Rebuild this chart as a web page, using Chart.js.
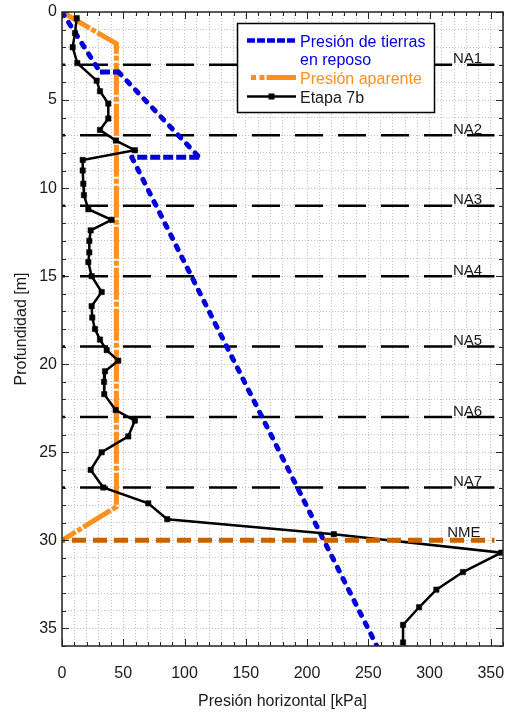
<!DOCTYPE html>
<html lang="es">
<head>
<meta charset="utf-8">
<title>Presión horizontal - Etapa 7b</title>
<script src="https://cdn.jsdelivr.net/npm/chart.js@4.4.1/dist/chart.umd.min.js"></script>
<style>
  html, body { margin: 0; padding: 0; background: #fff; }
  #grafica { display: block; }
</style>
</head>
<body>
<canvas id="grafica" width="509" height="713"></canvas>
<script>
// Etapa 7b: presión medida (kPa) contra profundidad (m)
const etapaPresion = [12, 10.6, 8.7, 12.5, 28.3, 31, 37.8, 37.8, 31, 44, 59.5, 16.9, 16.9, 17.4, 17.9, 21.5,
    40.5, 23.4, 22.3, 22.3, 21.5, 24.2, 32.4, 24.2, 24.7, 26.9, 31, 36.5, 45.9, 35.1, 34.3, 34.5,
    43.8, 59.5, 54.1, 32.4, 23.4, 33.7, 70.4, 85.9, 221.9, 358.6, 327.3, 305.6, 291.5, 278.4, 278.4];
const etapaProf = [0.35, 1.2, 2.0, 2.9, 3.9, 4.5, 5.2, 6.05, 6.7, 7.3, 7.85, 8.4, 9.0, 9.75, 10.4, 11.2,
    11.8, 12.4, 13.0, 13.65, 14.2, 15.0, 15.9, 16.7, 17.35, 18.0, 18.6, 19.2, 19.8, 20.4, 21.0, 21.7,
    22.6, 23.2, 24.1, 25.0, 26.0, 27.0, 27.9, 28.8, 29.65, 30.7, 31.8, 32.8, 33.8, 34.8, 35.8];

// Presión de tierras en reposo
const reposoPresion = [0, 31, 46, 112, 57, 257];
const reposoProf = [0, 3.4, 3.4, 8.25, 8.25, 36];

// Envolvente de presión aparente
const aparentePresion = [0, 44.4, 44.4, 0];
const aparenteProf = [0, 1.8, 28.1, 30];

// Niveles de apuntalamiento y nivel de máxima excavación
const nivelesNA = [3, 7, 11, 15, 19, 23, 27];
const etiquetasNA = ['NA1', 'NA2', 'NA3', 'NA4', 'NA5', 'NA6', 'NA7'];
const nivelNME = 30;
const limitesNivel = [0, 353];

// Ejes
const ejeX = { min: 0, max: 360, paso: 10, pasoEtiqueta: 50 };
const ejeY = { min: 0, max: 36, paso: 1, pasoEtiqueta: 5 };

const FUENTE = '"Liberation Sans", Arial, Helvetica, sans-serif';
const AZUL = '#0000dc';
const NARANJA = '#ff8f1f';
const CAFE = '#c86400';
const TEXTO = '#1a1a1a';

const puntos = (xs, ys) => xs.map((x, i) => ({ x: x, y: ys[i] }));

const lineasNA = nivelesNA.map(p => ({
    label: 'NA ' + p,
    data: puntos(limitesNivel, [p, p]),
    borderColor: '#000',
    borderWidth: 2.5,
    borderDash: [28, 15],
    borderDashOffset: 25,
    pointRadius: 0,
    order: 4
}));

// marcas hacia adentro en los cuatro lados + marco
const marcasInteriores = {
    id: 'marcasInteriores',
    afterDatasetsDraw(chart) {
        const { ctx, chartArea: a, scales: { x, y } } = chart;
        ctx.save();
        ctx.strokeStyle = '#262626';
        ctx.lineWidth = 1;
        ctx.beginPath();
        for (let v = ejeX.min; v <= ejeX.max; v += ejeX.paso) {
            const px = Math.round(x.getPixelForValue(v)) + 0.5;
            const len = v % ejeX.pasoEtiqueta === 0 ? 7 : 4;
            ctx.moveTo(px, a.bottom); ctx.lineTo(px, a.bottom - len);
            ctx.moveTo(px, a.top); ctx.lineTo(px, a.top + len);
        }
        for (let v = ejeY.min; v <= ejeY.max; v += ejeY.paso) {
            const py = Math.round(y.getPixelForValue(v)) + 0.5;
            const len = v % ejeY.pasoEtiqueta === 0 ? 7 : 4;
            ctx.moveTo(a.left, py); ctx.lineTo(a.left + len, py);
            ctx.moveTo(a.right, py); ctx.lineTo(a.right - len, py);
        }
        ctx.stroke();
        ctx.lineWidth = 1.5;
        ctx.strokeRect(a.left, a.top, a.right - a.left, a.bottom - a.top);
        ctx.restore();
    }
};

// etiquetas NA1..NA7 y NME sobre sus líneas
const etiquetasNiveles = {
    id: 'etiquetasNiveles',
    afterDatasetsDraw(chart) {
        const { ctx, scales: { x, y } } = chart;
        ctx.save();
        ctx.font = '15px ' + FUENTE;
        ctx.fillStyle = TEXTO;
        ctx.textAlign = 'center';
        ctx.textBaseline = 'alphabetic';
        const cx = x.getPixelForValue(331);
        nivelesNA.forEach((p, i) => {
            ctx.fillText(etiquetasNA[i], cx, y.getPixelForValue(p) - 1.5);
        });
        ctx.fillText('NME', x.getPixelForValue(328), y.getPixelForValue(nivelNME) - 3);
        ctx.restore();
    }
};

// leyenda dentro del área de la gráfica
const leyenda = {
    id: 'leyenda',
    afterDraw(chart) {
        const { ctx } = chart;
        const bx = 237.5, by = 23.5, bw = 197, bh = 89;
        ctx.save();
        ctx.fillStyle = '#fff';
        ctx.fillRect(bx, by, bw, bh);
        ctx.strokeStyle = '#000';
        ctx.lineWidth = 1.5;
        ctx.strokeRect(bx, by, bw, bh);

        const x0 = 247, x1 = 296;
        // tierras en reposo
        ctx.strokeStyle = AZUL;
        ctx.lineWidth = 4.5;
        ctx.setLineDash([8, 2]);
        ctx.beginPath(); ctx.moveTo(x0, 40.5); ctx.lineTo(x1, 40.5); ctx.stroke();
        // presión aparente
        ctx.strokeStyle = NARANJA;
        ctx.lineWidth = 5;
        ctx.setLineDash([5, 3.5, 5, 2, 40, 1]);
        ctx.beginPath(); ctx.moveTo(251, 77.5); ctx.lineTo(x1, 77.5); ctx.stroke();
        // etapa 7b
        ctx.setLineDash([]);
        ctx.strokeStyle = '#000';
        ctx.lineWidth = 2.5;
        ctx.beginPath(); ctx.moveTo(x0, 96.5); ctx.lineTo(x1, 96.5); ctx.stroke();
        ctx.fillStyle = '#000';
        ctx.fillRect(268.5, 93.5, 6, 6);

        ctx.font = '16px ' + FUENTE;
        ctx.textAlign = 'left';
        ctx.textBaseline = 'alphabetic';
        ctx.fillStyle = AZUL;
        ctx.fillText('Presión de tierras', 300, 46.5);
        ctx.fillText('en reposo', 300, 65);
        ctx.fillStyle = NARANJA;
        ctx.fillText('Presión aparente', 300, 83.5);
        ctx.fillStyle = TEXTO;
        ctx.fillText('Etapa 7b', 300, 102.5);
        ctx.restore();
    }
};

const esHorizontal = c => c.p0.parsed.y === c.p1.parsed.y;

new Chart(document.getElementById('grafica'), {
    type: 'line',
    data: {
        datasets: [
            {
                label: 'NME',
                data: puntos(limitesNivel, [nivelNME, nivelNME]),
                borderColor: CAFE,
                borderWidth: 5,
                borderDash: [14, 7],
                borderDashOffset: 11,
                pointRadius: 0,
                order: -1
            },
            {
                label: 'Etapa 7b',
                data: puntos(etapaPresion, etapaProf),
                borderColor: '#000',
                borderWidth: 2.5,
                pointStyle: 'rect',
                pointRadius: 3.8,
                pointBackgroundColor: '#000',
                pointBorderColor: '#000',
                pointBorderWidth: 0.5,
                order: 0
            },
            {
                label: 'Presión de tierras en reposo',
                data: puntos(reposoPresion, reposoProf),
                borderColor: AZUL,
                borderWidth: 5,
                pointRadius: 0,
                segment: {
                    borderDash: c => esHorizontal(c) ? [10, 3] : [4, 8.4],
                    borderCapStyle: c => esHorizontal(c) ? 'butt' : 'round'
                },
                order: 1
            },
            {
                label: 'Presión aparente',
                data: puntos(aparentePresion, aparenteProf),
                borderColor: NARANJA,
                borderWidth: 5,
                borderDash: [32, 2, 5, 2],
                pointRadius: 0,
                order: 2
            },
            ...lineasNA
        ]
    },
    options: {
        responsive: false,
        animation: false,
        events: [],
        layout: { padding: { top: 12, right: 6, left: 0, bottom: 0 } },
        elements: { line: { tension: 0, fill: false } },
        plugins: {
            legend: { display: false },
            tooltip: { enabled: false }
        },
        scales: {
            x: {
                type: 'linear',
                min: ejeX.min,
                max: ejeX.max,
                afterFit: s => { s.height = 67; },
                // la separación de las etiquetas va en tickLength (invisible) para no reducir el área
                grid: { color: '#c2c2c2', lineWidth: 1, drawTicks: true, tickLength: 18, tickColor: 'rgba(0,0,0,0)' },
                border: { display: false, dash: [1, 2] },
                ticks: {
                    stepSize: ejeX.paso,
                    autoSkip: false,
                    maxRotation: 0,
                    padding: 0,
                    color: TEXTO,
                    font: { size: 16, family: FUENTE },
                    callback: v => v % ejeX.pasoEtiqueta === 0 ? v : ''
                },
                title: {
                    display: true,
                    text: 'Presión horizontal [kPa]',
                    color: TEXTO,
                    font: { size: 16, family: FUENTE },
                    padding: { top: 0, bottom: 2 }
                }
            },
            y: {
                type: 'linear',
                reverse: true,
                min: ejeY.min,
                max: ejeY.max,
                afterFit: s => { s.width = 62; },
                grid: { color: '#c2c2c2', lineWidth: 1, drawTicks: true, tickLength: 5, tickColor: 'rgba(0,0,0,0)' },
                border: { display: false, dash: [1, 2] },
                ticks: {
                    stepSize: ejeY.paso,
                    autoSkip: false,
                    padding: 0,
                    color: TEXTO,
                    font: { size: 16, family: FUENTE },
                    callback: v => v % ejeY.pasoEtiqueta === 0 ? v : ''
                },
                title: {
                    display: true,
                    text: 'Profundidad [m]',
                    color: TEXTO,
                    font: { size: 16, family: FUENTE },
                    padding: { top: 12, bottom: 0 }
                }
            }
        }
    },
    plugins: [marcasInteriores, etiquetasNiveles, leyenda]
});
</script>
</body>
</html>
